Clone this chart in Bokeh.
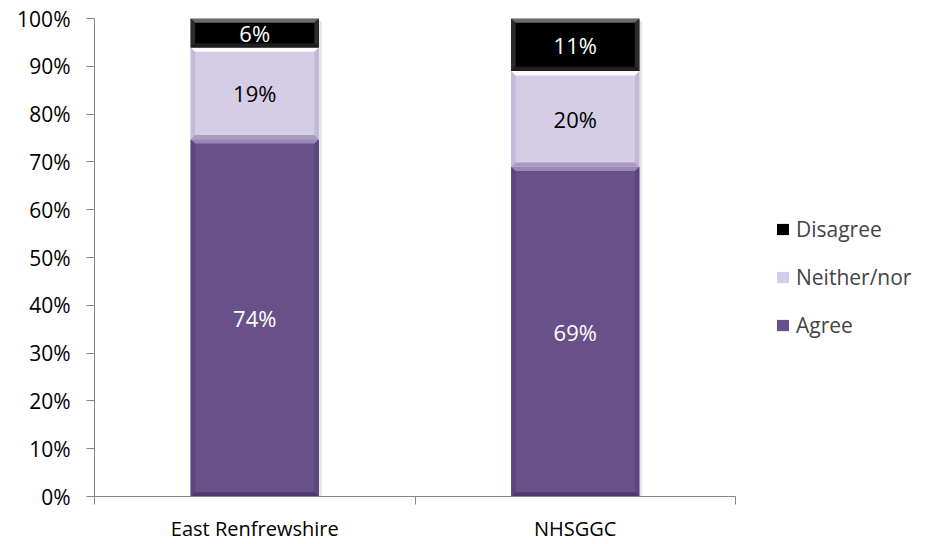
from bokeh.plotting import figure
from bokeh.models import Range1d, FixedTicker, NumeralTickFormatter, Legend, LegendItem
from bokeh.embed import file_html
from bokeh.resources import INLINE
from bokeh.core.properties import value

# --- data -------------------------------------------------------------
categories = ["East Renfrewshire", "NHSGGC"]
series = ["Agree", "Neither/nor", "Disagree"]
agree = [74, 69]
neither = [19, 20]
disagree = [6, 11]
y_ticks = [0, 0.1, 0.2, 0.3, 0.4, 0.5, 0.6, 0.7, 0.8, 0.9, 1.0]

# --- styling ----------------------------------------------------------
FONT = value("Open Sans")
AXIS_GREY = "#868686"
# main, top bevel, bottom bevel, side bevel
palette = {
    "Agree": ("#685189", "#9A86B9", "#4D3A6C", "#5C4680"),
    "Neither/nor": ("#D5CCE5", "#FBFAFD", "#A99DBF", "#C3B8D7"),
    "Disagree": ("#000000", "#6A6A6A", "#1E1E1E", "#2C2C2C"),
}
label_colors = {"Agree": "white", "Neither/nor": "black", "Disagree": "white"}
BAR_W = 0.4
BX, BY = 0.014, 0.009   # bevel depth in data units
SHADOW = 0.009          # soft drop shadow on the right of each bar

W, H = 929, 544
LEFT, TOP, BOTTOM = 94, 18, 47
AXIS_PX = 641                      # pixel length of the category axis
FRAME_W = W - LEFT                 # frame runs to the right edge; legend sits in it
n = len(categories)
x_end = n * FRAME_W / AXIS_PX

p = figure(width=W, height=H, output_backend="svg", toolbar_location=None,
           x_range=Range1d(0, x_end), y_range=Range1d(0, 1),
           min_border_left=LEFT, min_border_right=0, min_border_top=TOP,
           min_border_bottom=BOTTOM)
p.outline_line_color = None
p.grid.visible = False
p.background_fill_color = "white"
p.border_fill_color = "white"

values = {"Agree": agree, "Neither/nor": neither, "Disagree": disagree}
totals = [a + b + c for a, b, c in zip(agree, neither, disagree)]
centers = [i + 0.5 for i in range(n)]

# faint shadow to the right of each full bar
p.quad(left=[c + BAR_W / 2 for c in centers], right=[c + BAR_W / 2 + SHADOW for c in centers],
       bottom=[0] * n, top=[0.995] * n, fill_color="black", fill_alpha=0.10, line_color=None)

legend_renderers = {}
bottoms = [0.0] * n
for s in series:
    main, top_c, bot_c, side_c = palette[s]
    vals = values[s]
    fr = [v / t for v, t in zip(vals, totals)]
    tops = [b + f for b, f in zip(bottoms, fr)]
    r = p.vbar(x=centers, width=BAR_W, bottom=bottoms, top=tops,
               fill_color=main, line_color=None)
    legend_renderers[s] = r
    # bevel faces
    top_xs, top_ys, bot_xs, bot_ys, side_xs, side_ys = [], [], [], [], [], []
    for c, y0, y1 in zip(centers, bottoms, tops):
        x0, x1 = c - BAR_W / 2, c + BAR_W / 2
        top_xs.append([x0, x1, x1 - BX, x0 + BX])
        top_ys.append([y1, y1, y1 - BY, y1 - BY])
        bot_xs.append([x0, x1, x1 - BX, x0 + BX])
        bot_ys.append([y0, y0, y0 + BY, y0 + BY])
        side_xs.append([x0, x0, x0 + BX, x0 + BX])
        side_ys.append([y0, y1, y1 - BY, y0 + BY])
        side_xs.append([x1, x1, x1 - BX, x1 - BX])
        side_ys.append([y0, y1, y1 - BY, y0 + BY])
    p.patches(side_xs, side_ys, fill_color=side_c, line_color=None)
    p.patches(bot_xs, bot_ys, fill_color=bot_c, line_color=None)
    p.patches(top_xs, top_ys, fill_color=top_c, line_color=None)
    # value labels
    mids = [(b + t) / 2 for b, t in zip(bottoms, tops)]
    p.text(x=centers, y=mids, text=[f"{v}%" for v in vals],
           text_align="center", text_baseline="middle",
           text_font=FONT, text_font_size="22px",
           text_color=label_colors[s])
    bottoms = tops

# --- axes -------------------------------------------------------------
xa = p.xaxis[0]
xa.bounds = (0, n)
xa.ticker = FixedTicker(ticks=centers, minor_ticks=list(range(n + 1)))
xa.major_label_overrides = {c: name for c, name in zip(centers, categories)}
xa.major_tick_out = 0
xa.major_tick_in = 0
xa.minor_tick_out = 8
xa.minor_tick_in = 0
xa.minor_tick_line_color = AXIS_GREY
xa.axis_line_color = AXIS_GREY
xa.major_label_standoff = 10
xa.major_label_text_font = "Open Sans"
xa.major_label_text_font_size = "20px"
xa.major_label_text_color = "black"

ya = p.yaxis[0]
ya.ticker = FixedTicker(ticks=y_ticks, minor_ticks=[])
ya.formatter = NumeralTickFormatter(format="0%")
ya.major_tick_out = 8
ya.major_tick_in = 0
ya.major_tick_line_color = AXIS_GREY
ya.axis_line_color = AXIS_GREY
ya.major_label_standoff = 16
ya.major_label_text_font = "Open Sans"
ya.major_label_text_font_size = "21px"
ya.major_label_text_color = "black"

# --- legend -----------------------------------------------------------
legend = Legend(
    items=[LegendItem(label=s, renderers=[legend_renderers[s]]) for s in reversed(series)],
    location=(681, 157), orientation="vertical",
    label_text_font="Open Sans", label_text_font_size="21px",
    glyph_width=15, glyph_height=14, label_standoff=6,
    spacing=20, padding=0, margin=0, border_line_color=None,
    background_fill_alpha=0,
)
p.add_layout(legend, "center")

with open("out.html", "w") as f:
    f.write(file_html(p, INLINE))
